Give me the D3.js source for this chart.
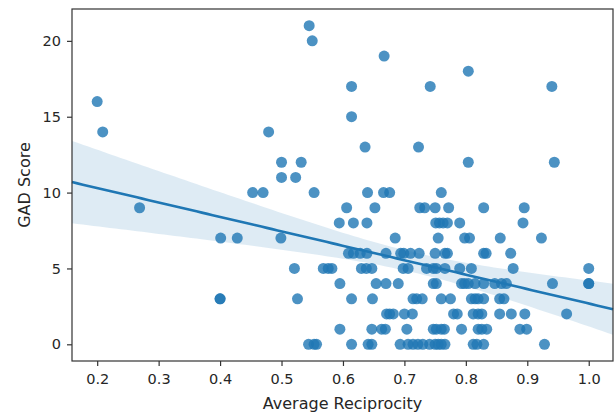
<!DOCTYPE html>
<html>
<head>
<meta charset="utf-8">
<script src="https://cdn.jsdelivr.net/npm/d3@7/dist/d3.min.js"></script>
<style>
body { margin: 0; background: #fff; }
text { font-family: "DejaVu Sans", sans-serif; fill: #262626; }
</style>
</head>
<body>
<script>
var width = 615;
var height = 413;
var margin = {top: 9, right: 2, bottom: 52, left: 72};

// one entry per respondent, grouped by GAD score row
var reciprocity = [
  0.544, 0.553, 0.557, 0.614, 0.641, 0.647, 0.693, 0.706, 0.714, 0.722, 0.730, 0.741, 0.750, 0.755, 0.760, 0.766, 0.812, 0.818, 0.829, 0.928,
  0.595, 0.647, 0.663, 0.669, 0.704, 0.747, 0.752, 0.760, 0.765, 0.793, 0.820, 0.826, 0.834, 0.888, 0.899,
  0.671, 0.676, 0.682, 0.700, 0.713, 0.780, 0.786, 0.812, 0.820, 0.826, 0.855, 0.874, 0.896, 0.964,
  0.400, 0.400, 0.526, 0.614, 0.648, 0.714, 0.720, 0.729, 0.760, 0.775, 0.809, 0.815, 0.820, 0.829, 0.855, 0.862,
  0.595, 0.654, 0.670, 0.690, 0.747, 0.752, 0.793, 0.798, 0.804, 0.815, 0.829, 0.847, 0.858, 0.866, 0.941, 1.000, 1.000,
  0.521, 0.568, 0.576, 0.582, 0.630, 0.638, 0.647, 0.698, 0.706, 0.736, 0.747, 0.752, 0.766, 0.790, 0.809, 0.877, 1.000,
  0.609, 0.617, 0.628, 0.639, 0.670, 0.694, 0.699, 0.710, 0.724, 0.750, 0.766, 0.770, 0.829, 0.833, 0.873,
  0.401, 0.428, 0.499, 0.685, 0.755, 0.798, 0.806, 0.856, 0.923,
  0.594, 0.617, 0.639, 0.751, 0.757, 0.763, 0.770, 0.790, 0.893,
  0.269, 0.606, 0.652, 0.725, 0.733, 0.750, 0.772, 0.829, 0.895,
  0.453, 0.470, 0.553, 0.640, 0.666, 0.676, 0.760,
  0.500, 0.523,
  0.500, 0.532, 0.804, 0.944,
  0.636, 0.723,
  0.209, 0.479,
  0.614,
  0.200,
  0.614, 0.742, 0.940,
  0.804,
  0.667,
  0.550,
  0.545
];
var gad = [
  0,0,0,0,0,0,0,0,0,0,0,0,0,0,0,0,0,0,0,0,
  1,1,1,1,1,1,1,1,1,1,1,1,1,1,1,
  2,2,2,2,2,2,2,2,2,2,2,2,2,2,
  3,3,3,3,3,3,3,3,3,3,3,3,3,3,3,3,
  4,4,4,4,4,4,4,4,4,4,4,4,4,4,4,4,4,
  5,5,5,5,5,5,5,5,5,5,5,5,5,5,5,5,5,
  6,6,6,6,6,6,6,6,6,6,6,6,6,6,6,
  7,7,7,7,7,7,7,7,7,
  8,8,8,8,8,8,8,8,8,
  9,9,9,9,9,9,9,9,9,
  10,10,10,10,10,10,10,
  11,11,
  12,12,12,12,
  13,13,
  14,14,
  15,
  16,
  17,17,17,
  18,
  19,
  20,
  21
];
var xTicks = [0.2, 0.3, 0.4, 0.5, 0.6, 0.7, 0.8, 0.9, 1.0];
var yTicks = [0, 5, 10, 15, 20];
var xLimits = [0.159, 1.0395];
var yLimits = [-1.1, 22.1];

var color = "#1f77b4";

var svg = d3.select("body")
    .append("svg")
    .attr("width", width)
    .attr("height", height);

var x = d3.scaleLinear().domain(xLimits).range([margin.left, width - margin.right]);
var y = d3.scaleLinear().domain(yLimits).range([height - margin.bottom, margin.top]);

var points = reciprocity.map(function(d, i) { return {x: d, y: gad[i]}; });

// ordinary least squares fit + 95% CI of the mean
var n = points.length;
var mx = d3.mean(points, function(d) { return d.x; });
var my = d3.mean(points, function(d) { return d.y; });
var sxx = d3.sum(points, function(d) { return (d.x - mx) * (d.x - mx); });
var sxy = d3.sum(points, function(d) { return (d.x - mx) * (d.y - my); });
var slope = sxy / sxx;
var intercept = my - slope * mx;
var sse = d3.sum(points, function(d) { var r = d.y - (intercept + slope * d.x); return r * r; });
var s = Math.sqrt(sse / (n - 2));
var tval = 1.975;

var grid = d3.range(0, 101).map(function(i) {
  var xv = xLimits[0] + (xLimits[1] - xLimits[0]) * i / 100;
  var fit = intercept + slope * xv;
  var se = s * Math.sqrt(1 / n + (xv - mx) * (xv - mx) / sxx);
  return {x: xv, fit: fit, lo: fit - tval * se, hi: fit + tval * se};
});

var plot = svg.append("g");

plot.selectAll("circle")
    .data(points)
    .enter()
    .append("circle")
    .attr("cx", function(d) { return x(d.x); })
    .attr("cy", function(d) { return y(d.y); })
    .attr("r", 5.5)
    .attr("fill", color)
    .attr("fill-opacity", 0.8);

var band = d3.area()
    .x(function(d) { return x(d.x); })
    .y0(function(d) { return y(d.lo); })
    .y1(function(d) { return y(d.hi); });

plot.append("path")
    .datum(grid)
    .attr("d", band)
    .attr("fill", color)
    .attr("fill-opacity", 0.15);

var line = d3.line()
    .x(function(d) { return x(d.x); })
    .y(function(d) { return y(d.fit); });

plot.append("path")
    .datum(grid)
    .attr("d", line)
    .attr("fill", "none")
    .attr("stroke", color)
    .attr("stroke-width", 2.6);

// axes
var xAxis = svg.append("g")
    .attr("transform", "translate(0," + (height - margin.bottom) + ")")
    .call(d3.axisBottom(x).tickValues(xTicks).tickFormat(d3.format(".1f")).tickSize(5).tickPadding(8));

var yAxis = svg.append("g")
    .attr("transform", "translate(" + margin.left + ",0)")
    .call(d3.axisLeft(y).tickValues(yTicks).tickFormat(d3.format("d")).tickSize(5).tickPadding(6));

[xAxis, yAxis].forEach(function(ax) {
  ax.select(".domain").remove();
  ax.selectAll("line").attr("stroke", "#333").attr("stroke-width", 1.2);
  ax.selectAll("text").attr("font-size", "14.5px").attr("font-family", "DejaVu Sans").attr("fill", "#262626");
});

// frame
svg.append("rect")
    .attr("x", margin.left)
    .attr("y", margin.top)
    .attr("width", width - margin.left - margin.right)
    .attr("height", height - margin.top - margin.bottom)
    .attr("fill", "none")
    .attr("stroke", "#333")
    .attr("stroke-width", 1.2);

svg.append("text")
    .attr("x", (margin.left + width - margin.right) / 2)
    .attr("y", 409)
    .attr("text-anchor", "middle")
    .attr("font-size", "16px")
    .text("Average Reciprocity");

svg.append("text")
    .attr("transform", "translate(30," + ((margin.top + height - margin.bottom) / 2) + ") rotate(-90)")
    .attr("text-anchor", "middle")
    .attr("font-size", "16px")
    .text("GAD Score");
</script>
</body>
</html>
